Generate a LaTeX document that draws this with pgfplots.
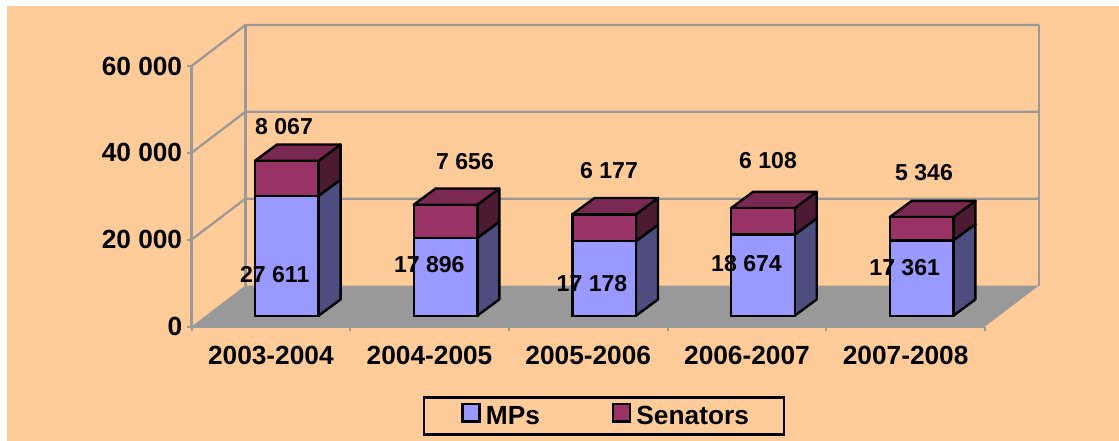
\documentclass[border=0pt]{standalone}
\usepackage{pgfplots}
\usepackage{fontspec}
\setmainfont{Liberation Sans}
\pgfplotsset{compat=1.18}
\definecolor{bg}{HTML}{FFCC99}
\definecolor{wall}{HTML}{999999}
\definecolor{mp}{HTML}{9999FF}
\definecolor{mpside}{HTML}{4D4D80}
\definecolor{sen}{HTML}{993366}
\definecolor{sentop}{HTML}{7A2952}
\definecolor{senside}{HTML}{4D1A33}
\newcommand{\bigfont}{\fontsize{19.7pt}{22pt}\selectfont\bfseries}
\newcommand{\valfont}{\fontsize{17.3pt}{20pt}\selectfont\bfseries}
\pgfplotsset{
  base/.style={
    at={(143.625pt,-244.875pt)}, anchor=south west,
    scale only axis, width=595.125pt, height=195.375pt,
    xmin=0, xmax=5, ymin=0, ymax=60000, clip=false,
  },
  wallline/.style={draw=wall, line width=1.7pt, no marks, sharp plot, forget plot},
  facet/.style={draw=black, line width=1.8pt, line join=round, no marks, sharp plot, forget plot},
}
% depth faces of one bar: left edge, MPs value, total value
\newcommand{\barfaces}[3]{%
  \pgfmathsetmacro{\Lx}{#1}%
  \pgfmathsetmacro{\Rx}{#1+0.401}%
  \pgfmathsetmacro{\Rb}{#1+0.401+0.1386}%
  \pgfmathsetmacro{\Lb}{#1+0.1386}%
  \edef\ya{2487}%
  \edef\yb{\the\numexpr 2487+3754\relax}%
  \edef\ma{\the\numexpr 2487+#2\relax}%
  \edef\mb{\the\numexpr 2487+3754+#2\relax}%
  \edef\ta{\the\numexpr 2487+#3\relax}%
  \edef\tb{\the\numexpr 2487+3754+#3\relax}%
  \addplot[facet, fill=mpside] coordinates {(\Rx,\ya) (\Rb,\yb) (\Rb,\mb) (\Rx,\ma)} --cycle;
  \addplot[facet, fill=senside] coordinates {(\Rx,\ma) (\Rb,\mb) (\Rb,\tb) (\Rx,\ta)} --cycle;
  \addplot[facet, fill=sentop] coordinates {(\Lx,\ta) (\Rx,\ta) (\Rb,\tb) (\Lb,\tb)} --cycle;
}
\begin{document}
\begin{tikzpicture}
\path[use as bounding box, fill=white] (0,0) rectangle (839.25pt,-330.75pt);
\fill[bg] (5.25pt,-4.5pt) rectangle (839.25pt,-330.75pt);
\begin{axis}[base,
  axis lines*=left,
  axis line style={draw=wall, line width=1.7pt, -},
  tick style={draw=wall, line width=1.5pt},
  tick align=outside,
  major tick length=3.5pt,
  scaled y ticks=false,
  ytick={0,20000,40000,60000},
  yticklabels={0,20 000,40 000,60 000},
  xtick={0,1,2,3,4,5},
  x tick label as interval,
  xticklabels={2003-2004,2004-2005,2005-2006,2006-2007,2007-2008},
  tick label style={font=\bigfont},
  xticklabel style={yshift=-7.5pt},
]
\addplot[wall, fill=wall, draw=none, no marks, forget plot] coordinates {(0,0) (5,0) (5.34,9443) (0.34,9443)} --cycle;
\addplot[wallline] coordinates {(0,20000) (0.34,29443) (5.34,29443)};
\addplot[wallline] coordinates {(0,40000) (0.34,49443) (5.34,49443)};
\addplot[wallline] coordinates {(0,60000) (0.34,69443) (5.34,69443)};
\addplot[wallline] coordinates {(0.34,9443) (0.34,69443)};
\addplot[wallline] coordinates {(5.34,9443) (5.34,69443)};
\barfaces{0.400}{27611}{35678}
\barfaces{1.400}{17896}{25552}
\barfaces{2.400}{17178}{23355}
\barfaces{3.400}{18674}{24782}
\barfaces{4.400}{17361}{22707}
\end{axis}
\begin{axis}[base, hide axis,
  ybar stacked, bar width=0.401,
  legend columns=2,
  legend style={at={(0.5198,-0.3436)}, anchor=center, draw=black, line width=1.8pt,
    fill=none, font=\bigfont, inner xsep=27.9pt, inner ysep=4.25pt,
    /tikz/every even column/.append style={column sep=52pt}},
  legend image code/.code={\draw[#1, line width=1.8pt] (0pt,-12pt) rectangle (12.75pt,0.8pt); \path[draw=none] (0pt,-5pt) -- (15.5pt,-5pt);},
]
\addplot[fill=mp, draw=black, line width=1.8pt, yshift=8.1pt] coordinates {(0.6006,27611) (1.6006,17896) (2.6006,17178) (3.6006,18674) (4.6006,17361)};
\addplot[fill=sen, draw=black, line width=1.8pt, yshift=8.1pt] coordinates {(0.6006,8067) (1.6006,7656) (2.6006,6177) (3.6006,6108) (4.6006,5346)};
\legend{MPs,Senators\kern-3.75pt}
\end{axis}
\begin{scope}[x=0.75pt,y=-0.75pt]
\foreach \x/\y/\t in {284/127/8 067,465/162/7 656,609/171/6 177,768/161/6 108,924/173/5 346,
  274.7/275/27 611,429.3/265/17 896,592/284/17 178,746.5/264/18 674,904.7/268/17 361}
  \node[font=\valfont, inner sep=0pt, anchor=center] at (\x,\y) {\t};
\end{scope}
\end{tikzpicture}
\end{document}
